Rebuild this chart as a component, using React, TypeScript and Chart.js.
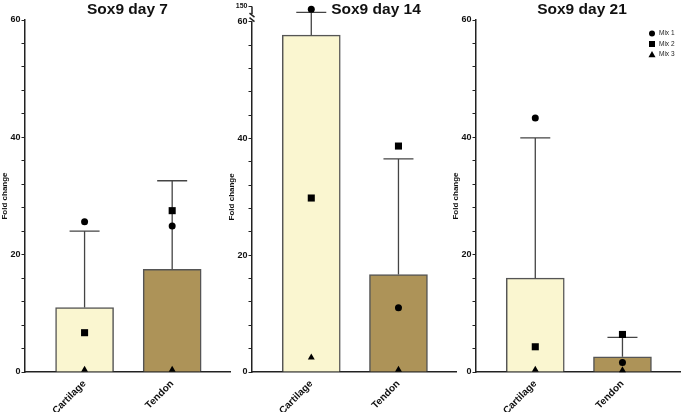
import { useEffect, useRef } from 'react';
import { Chart, registerables } from 'chart.js';

Chart.register(...registerables);
Chart.defaults.font.family = '"Liberation Sans", Arial, Helvetica, sans-serif';
Chart.defaults.color = '#111';

const categories = ['Cartilage', 'Tendon'];
const mixLabels = ['Mix 1', 'Mix 2', 'Mix 3'];
const markerStyles = ['circle', 'rect', 'triangle'];
const markerRadius = [3.5, 5, 4];
const barColors = ['#FAF6D0', '#AD9358'];
const yLabelTicks = [0, 20, 40, 60];

// day 7
const day7Mean = [11.0, 17.5];
const day7Upper = [24.0, 32.6];
const day7Mix1 = [25.6, 24.9];
const day7Mix2 = [6.7, 27.5];
const day7Mix3 = [0.4, 0.4];

// day 14 (cartilage mix 1 and its error bar sit above the axis break)
const day14Mean = [57.7, 16.7];
const day14Upper = [131, 36.5];
const day14Mix1 = [141, 11.0];
const day14Mix2 = [29.8, 38.7];
const day14Mix3 = [2.5, 0.4];

// day 21
const day21Mean = [16.0, 2.6];
const day21Upper = [39.9, 5.9];
const day21Mix1 = [43.3, 1.6];
const day21Mix2 = [4.3, 6.4];
const day21Mix3 = [0.4, 0.3];

const lowerMax = 60;
const upperMin = 100;
const upperTick = 150;
const breakStart = 125;

type PanelProps = {
  title: string;
  means: number[];
  upper: number[];
  mixes: number[][];
  left: number;
  width: number;
  padTop: number;
  titleShift: number;
  broken?: boolean;
  legend?: boolean;
};

function Panel(p: PanelProps) {
  const canvasRef = useRef<HTMLCanvasElement>(null);

  useEffect(() => {
    if (!canvasRef.current) return;
    const axisFor = (v: number) => (p.broken && v > lowerMax ? 'yTop' : 'y');

    const datasets: any[] = [
      {
        type: 'bar',
        data: p.means.map((v, i) => ({ x: i, y: v })),
        backgroundColor: barColors,
        borderColor: '#555',
        borderWidth: 1.5,
        barThickness: 58,
        yAxisID: 'y',
        order: 2,
      },
    ];
    p.mixes.forEach((vals, m) =>
      vals.forEach((v, i) =>
        datasets.push({
          type: 'scatter',
          label: mixLabels[m],
          data: [{ x: i, y: v }],
          yAxisID: axisFor(v),
          pointStyle: markerStyles[m],
          pointRadius: markerRadius[m],
          backgroundColor: '#000',
          borderColor: '#000',
          borderWidth: 0,
          clip: false,
          order: 1,
        })
      )
    );

    const panelTitle = {
      id: 'panelTitle',
      afterDraw(chart: any) {
        const ctx = chart.ctx;
        const { left, right } = chart.chartArea;
        ctx.save();
        ctx.font = 'bold 15.5px "Liberation Sans", Arial, sans-serif';
        ctx.fillStyle = '#111';
        ctx.textAlign = 'center';
        ctx.textBaseline = 'alphabetic';
        ctx.fillText(p.title, (left + right) / 2 + p.titleShift, 13.5);
        ctx.restore();
      },
    };

    const errorBars = {
      id: 'errorBars',
      afterDatasetDraw(chart: any, args: any) {
        if (args.index !== 0) return;
        const ctx = chart.ctx;
        ctx.save();
        ctx.strokeStyle = '#444';
        ctx.lineWidth = 1.3;
        chart.getDatasetMeta(0).data.forEach((bar: any, i: number) => {
          const yCap = chart.scales[axisFor(p.upper[i])].getPixelForValue(p.upper[i]);
          ctx.beginPath();
          ctx.moveTo(bar.x, bar.y);
          ctx.lineTo(bar.x, yCap);
          ctx.moveTo(bar.x - 15, yCap);
          ctx.lineTo(bar.x + 15, yCap);
          ctx.stroke();
        });
        ctx.restore();
      },
    };

    const axisBreak = {
      id: 'axisBreak',
      afterDraw(chart: any) {
        if (!p.broken) return;
        const ctx = chart.ctx;
        const x = chart.scales.y.right;
        const yHigh = chart.scales.yTop.getPixelForValue(upperTick);
        const yBrk = chart.scales.yTop.getPixelForValue(breakStart);
        const yLow = chart.scales.y.getPixelForValue(lowerMax);
        ctx.save();
        ctx.strokeStyle = '#222';
        ctx.lineWidth = 1.5;
        ctx.beginPath();
        ctx.moveTo(x, yHigh);
        ctx.lineTo(x, yBrk);
        ctx.moveTo(x - 2.5, yBrk - 1);
        ctx.lineTo(x + 2.5, yBrk + 3);
        ctx.moveTo(x - 2.5, yLow - 4);
        ctx.lineTo(x + 2.5, yLow);
        ctx.stroke();
        ctx.restore();
      },
    };

    const mixLegend = {
      id: 'mixLegend',
      afterDraw(chart: any) {
        if (!p.legend) return;
        const ctx = chart.ctx;
        const { right, top } = chart.chartArea;
        ctx.save();
        ctx.font = '6.5px "Liberation Sans", Arial, sans-serif';
        ctx.textBaseline = 'middle';
        mixLabels.forEach((label, m) => {
          const cx = right - 28;
          const cy = top + 13.5 + m * 10.5;
          ctx.fillStyle = '#000';
          ctx.beginPath();
          if (m === 0) ctx.arc(cx, cy, 3, 0, Math.PI * 2);
          else if (m === 1) ctx.rect(cx - 3, cy - 3, 6, 6);
          else {
            ctx.moveTo(cx, cy - 3.5);
            ctx.lineTo(cx + 3.5, cy + 2.8);
            ctx.lineTo(cx - 3.5, cy + 2.8);
            ctx.closePath();
          }
          ctx.fill();
          ctx.fillStyle = '#222';
          ctx.fillText(label, right - 21, cy);
        });
        ctx.restore();
      },
    };

    const tickFont = { size: 9, weight: 'bold' as const };
    const scales: any = {
      x: {
        type: 'linear',
        offset: false,
        min: -0.68,
        max: 1.66,
        afterBuildTicks: (s: any) => { s.ticks = categories.map((_, i) => ({ value: i })); },
        afterFit: (s: any) => { s.height = 40; },
        ticks: {
          callback: (_v: any, i: number) => categories[i],
          minRotation: 45,
          maxRotation: 45,
          autoSkip: false,
          padding: 6,
          font: { size: 10, weight: 'bold' },
          color: '#111',
        },
        grid: { offset: false, drawOnChartArea: false, drawTicks: false },
        border: { color: '#222', width: 1.5 },
      },
      y: {
        type: 'linear',
        position: 'left',
        min: 0,
        max: lowerMax,
        afterFit: (s: any) => { s.width = 25; },
        ticks: {
          stepSize: 4,
          autoSkip: false,
          callback: (v: any) => (yLabelTicks.includes(v) ? v : ''),
          font: tickFont,
          padding: 1,
          color: '#111',
        },
        grid: { drawOnChartArea: false, tickLength: 3.5, color: '#222' },
        border: { color: '#222', width: 1.5 },
        title: {
          display: true,
          text: 'Fold change',
          font: { size: 8, weight: 'bold' },
          color: '#111',
          padding: 0,
        },
      },
    };
    if (p.broken) {
      Object.assign(scales.y, { stack: 'left', stackWeight: 350.3, weight: 0 });
      scales.yTop = {
        type: 'linear',
        position: 'left',
        stack: 'left',
        stackWeight: 15.2,
        weight: 1,
        min: upperMin,
        max: upperTick,
        afterBuildTicks: (s: any) => { s.ticks = [{ value: upperTick }]; },
        afterFit: (s: any) => { s.width = 25; },
        ticks: { font: { size: 7, weight: 'bold' }, padding: 1, color: '#111' },
        grid: { drawOnChartArea: false, tickLength: 3.5, color: '#222' },
        border: { display: false },
      };
    }

    const chart = new Chart(canvasRef.current, {
      type: 'bar',
      data: { datasets },
      options: {
        responsive: false,
        animation: false,
        events: [],
        layout: { padding: { left: 0, right: 2, top: p.padTop, bottom: 0 } },
        scales,
        plugins: {
          legend: { display: false },
          tooltip: { enabled: false },
          title: { display: false },
        },
      },
      plugins: [errorBars, axisBreak, mixLegend, panelTitle],
    } as any);

    return () => { chart.destroy(); };
  }, [p]);

  return (
    <canvas
      ref={canvasRef}
      width={p.width}
      height={412}
      style={{ position: 'absolute', left: p.left, top: 0, width: p.width, height: 412 }}
    />
  );
}

const panels: PanelProps[] = [
  { title: 'Sox9 day 7', means: day7Mean, upper: day7Upper, mixes: [day7Mix1, day7Mix2, day7Mix3], left: 0, width: 235, padTop: 20, titleShift: 0 },
  { title: 'Sox9 day 14', means: day14Mean, upper: day14Upper, mixes: [day14Mix1, day14Mix2, day14Mix3], left: 227, width: 234, padTop: 6.5, titleShift: 22, broken: true },
  { title: 'Sox9 day 21', means: day21Mean, upper: day21Upper, mixes: [day21Mix1, day21Mix2, day21Mix3], left: 451, width: 234, padTop: 20, titleShift: 4 },
];

export default function App() {
  return (
    <div style={{ position: 'fixed', left: 0, top: 0, width: 685, height: 412, overflow: 'hidden', background: '#fff' }}>
      {panels.map((p) => (
        <Panel key={p.title} {...p} legend={p.title === 'Sox9 day 21'} />
      ))}
    </div>
  );
}
